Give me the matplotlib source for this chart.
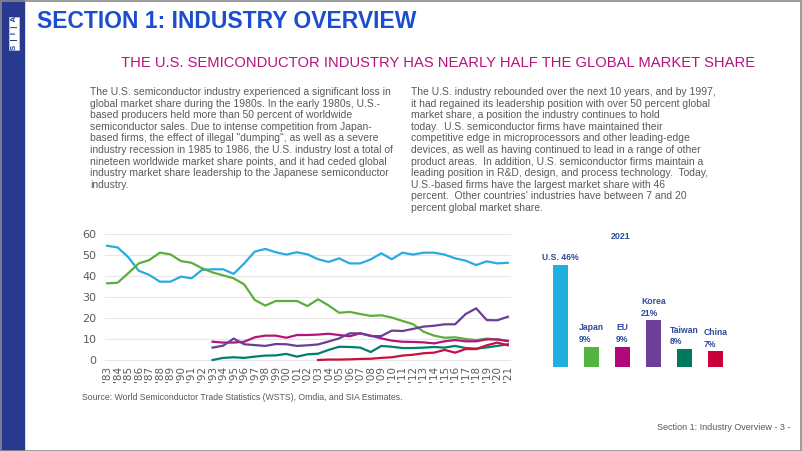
import matplotlib.pyplot as plt
import matplotlib.patches as patches
import numpy as np

# Veriler (1983-2021, pazar payi %)
yillar = list(range(1983, 2022))
abd = [54.4, 53.6, 49.0, 42.5, 40.5, 37.3, 37.3, 39.7, 38.9, 42.9, 43.2, 43.2, 41.0,
       46.0, 51.6, 52.9, 51.3, 50.2, 51.3, 50.3, 48.0, 46.7, 48.4, 46.0, 46.0, 47.9,
       50.8, 48.0, 51.1, 50.2, 51.1, 51.1, 50.2, 48.4, 47.3, 45.2, 47.0, 46.0, 46.3]
japonya = [36.5, 36.8, 41.3, 46.0, 47.6, 51.1, 50.3, 47.1, 46.3, 43.7, 41.7, 40.3, 38.9,
           36.0, 28.6, 25.9, 28.1, 28.1, 28.1, 25.7, 28.9, 26.0, 22.5, 22.9, 21.9, 21.0,
           21.3, 20.2, 18.6, 17.1, 13.5, 11.6, 10.6, 10.8, 10.0, 9.5, 10.2, 9.8, 9.2]
# 1993'ten itibaren
ab = [8.7, 8.3, 8.3, 8.7, 10.8, 11.6, 11.6, 10.6, 11.9, 11.9, 12.1, 12.5, 11.9,
      11.3, 12.7, 11.6, 10.3, 9.2, 8.7, 8.6, 8.4, 7.9, 8.9, 9.5, 8.9, 8.9, 9.8, 9.8, 9.0]
kore = [5.9, 6.8, 10.2, 7.5, 7.1, 6.7, 7.6, 7.5, 6.7, 7.0, 7.4, 8.8, 10.3,
        12.7, 12.7, 11.4, 11.4, 14.0, 13.8, 14.8, 15.9, 16.3, 17.0, 17.0, 21.9, 24.6, 19.0, 18.9, 20.6]
tayvan = [0.0, 1.0, 1.3, 1.0, 1.6, 2.1, 2.2, 2.9, 1.6, 2.7, 3.0, 4.8, 6.3,
          6.2, 5.9, 3.8, 6.7, 6.3, 5.7, 5.7, 5.9, 6.2, 5.9, 6.7, 5.7, 5.4, 6.0, 6.7, 7.5]
# 2003'ten itibaren
cin = [0.0, 0.2, 0.2, 0.3, 0.5, 0.6, 1.0, 1.3, 2.1, 2.5, 3.2, 3.5, 4.8, 3.5, 5.2,
       5.2, 7.0, 8.3, 7.0]

ulkeler = ['U.S.', 'Japan', 'EU', 'Korea', 'Taiwan', 'China']
paylar_2021 = [46, 9, 9, 21, 8, 7]
etiketler = ['U.S. 46%', 'Japan\n9%', 'EU\n9%', 'Korea\n21%', 'Taiwan\n8%', 'China\n7%']

renkler = ['#29abe2', '#5aaf3c', '#b5137c', '#6a3e98', '#00806a', '#c8103e']
bar_renkleri = ['#1eb0e0', '#55b344', '#b0087a', '#6d3f99', '#007a5e', '#c9003c']

x_etiketleri = ["'" + str(y)[2:] for y in yillar]

paragraf1 = ("The U.S. semiconductor industry experienced a significant loss in\n"
             "global market share during the 1980s. In the early 1980s, U.S.-\n"
             "based producers held more than 50 percent of worldwide\n"
             "semiconductor sales. Due to intense competition from Japan-\n"
             "based firms, the effect of illegal \"dumping\", as well as a severe\n"
             "industry recession in 1985 to 1986, the U.S. industry lost a total of\n"
             "nineteen worldwide market share points, and it had ceded global\n"
             "industry market share leadership to the Japanese semiconductor\n"
             "industry.")
paragraf2 = ("The U.S. industry rebounded over the next 10 years, and by 1997,\n"
             "it had regained its leadership position with over 50 percent global\n"
             "market share, a position the industry continues to hold\n"
             "today.  U.S. semiconductor firms have maintained their\n"
             "competitive edge in microprocessors and other leading-edge\n"
             "devices, as well as having continued to lead in a range of other\n"
             "product areas.  In addition, U.S. semiconductor firms maintain a\n"
             "leading position in R&D, design, and process technology.  Today,\n"
             "U.S.-based firms have the largest market share with 46\n"
             "percent.  Other countries' industries have between 7 and 20\n"
             "percent global market share.")

W, H = 802, 451
fig = plt.figure(figsize=(W / 100, H / 100), dpi=100)
fig.patch.set_facecolor('white')

yazi = 'Liberation Sans'
gri = '#5a5a5a'

# Sol lacivert bant ve cerceve
fig.add_artist(patches.Rectangle((0, 0), 24 / W, 1, transform=fig.transFigure,
                                 color='#283a8f', zorder=0))
fig.add_artist(patches.Rectangle((0.5 / W, 0.5 / H), 1 - 1.5 / W, 1 - 1.5 / H,
                                 transform=fig.transFigure, fill=False,
                                 edgecolor='#8a8a8a', linewidth=1.2))
fig.add_artist(patches.Rectangle((9 / W, 1 - 50 / H), 10 / W, 33 / H,
                                 transform=fig.transFigure, facecolor='white',
                                 edgecolor='#c9cde0', linewidth=0.5))
fig.text(14.2 / W, 1 - 33.5 / H, 'S  |  I  |  A', rotation=90, ha='center', va='center',
         fontsize=5.5, color='#283a8f', fontweight='bold', family=yazi)

# Basliklar
fig.text(37 / W, 1 - 21 / H, 'SECTION 1: INDUSTRY OVERVIEW', fontsize=16.5,
         fontweight='bold', color='#1b4dcf', va='center', ha='left', family=yazi)
fig.text(755 / W, 1 - 63 / H,
         'THE U.S. SEMICONDUCTOR INDUSTRY HAS NEARLY HALF THE GLOBAL MARKET SHARE',
         fontsize=10.6, color='#b5137c', va='center', ha='right', family=yazi)

fig.text(90 / W, 1 - 87 / H, paragraf1, fontsize=7.5, color=gri, va='top', ha='left',
         family=yazi, linespacing=1.2)
fig.text(411 / W, 1 - 87 / H, paragraf2, fontsize=7.5, color=gri, va='top', ha='left',
         family=yazi, linespacing=1.2)

# Cizgi grafigi
ax = fig.add_axes([105 / W, 1 - 362.1 / H, 406 / W, 130.2 / H])
ax.plot(yillar, abd, color=renkler[0], lw=1.6)
ax.plot(yillar, japonya, color=renkler[1], lw=1.6)
ax.plot(yillar[10:], ab, color=renkler[2], lw=1.6)
ax.plot(yillar[10:], kore, color=renkler[3], lw=1.6)
ax.plot(yillar[10:], tayvan, color=renkler[4], lw=1.6)
ax.plot(yillar[20:], cin, color=renkler[5], lw=1.6)
ax.set_xlim(1982.8, 2021.3)
ax.set_ylim(-1, 61)
ax.set_yticks(range(0, 61, 10))
ax.set_xticks(yillar)
ax.set_xticklabels(x_etiketleri, rotation=90)
ax.tick_params(axis='both', length=0, labelsize=7.5, labelcolor=gri)
ax.tick_params(axis='y', labelsize=8, pad=6)
ax.tick_params(axis='x', pad=3)
ax.grid(axis='y', color='#e6e6e6', lw=0.8)
ax.set_axisbelow(True)
for s in ax.spines.values():
    s.set_visible(False)

# 2021 cubuk grafigi
ax2 = fig.add_axes([540 / W, 1 - 367 / H, 200 / W, 137 / H])
pozisyon = np.arange(len(ulkeler))
ax2.bar(pozisyon, paylar_2021, width=0.48, color=bar_renkleri)
for p, v, e in zip(pozisyon, paylar_2021, etiketler):
    ax2.annotate(e, (p, v), xytext=(0, 2), textcoords='offset points', ha='center',
                 va='bottom', multialignment='left', fontsize=6.2, fontweight='bold',
                 color='#2d4a9c', linespacing=1.4, family=yazi)
ax2.text(1.95, 58.6, '2021', ha='center', va='center', fontsize=6.4, fontweight='bold',
         color='#2d4a9c', family=yazi)
ax2.set_xlim(-0.66, 5.79)
ax2.set_ylim(0, 61.7)
ax2.axis('off')

fig.text(82 / W, 1 - 397 / H,
         'Source: World Semiconductor Trade Statistics (WSTS), Omdia, and SIA Estimates.',
         fontsize=6.3, color=gri, va='center', ha='left', family=yazi)
fig.text(790 / W, 1 - 427 / H, 'Section 1: Industry Overview - 3 -', fontsize=6.5,
         color=gri, va='center', ha='right', family=yazi)

fig.savefig('out.png', dpi=100)
